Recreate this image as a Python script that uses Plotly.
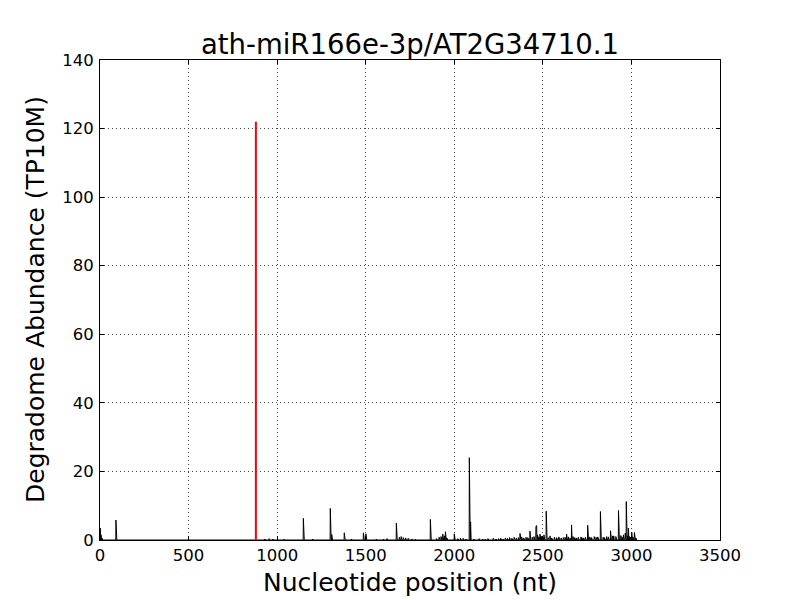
import numpy as np
import plotly.graph_objects as go

# ---- data ----
title_text = "ath-miR166e-3p/AT2G34710.1"
transcript_length = 3030

# prominent degradome peaks: position (nt) and abundance (TP10M)
peak_pos = [1, 3, 5, 8, 12, 90, 1148, 1300, 1308, 1379, 1487, 1501, 1673, 1865,
            1935, 1950, 2000, 2085, 2092, 2371, 2427, 2461, 2465, 2470, 2484,
            2506, 2519, 2540, 2634, 2662, 2753, 2825, 2882, 2927, 2971, 2983,
            3002, 3017]
peak_val = [3.5, 2.6, 1.6, 1.0, 0.5, 5.8, 6.3, 9.2, 1.6, 2.1, 2.1, 1.8, 4.9, 6.0,
            1.7, 2.4, 1.8, 24.0, 5.3, 1.9, 2.6, 4.0, 4.2, 1.5, 1.7,
            1.5, 8.4, 1.2, 1.7, 4.4, 4.3, 8.3, 2.7, 8.6, 11.2, 3.5,
            2.2, 2.2]

# low-level background reads
low_pos = [930, 955, 975, 1005, 1040, 1085, 1200, 1250, 1420, 1450, 1560, 1600,
           1620, 1690, 1700, 1712, 1725, 1740, 1760, 1780, 1830, 1900, 1914,
           1925, 1945, 1958, 2020, 2035, 2050, 2065, 2110, 2125, 2140, 2160,
           2175, 2190, 2205, 2220, 2235, 2250, 2262, 2275, 2288, 2300, 2312,
           2325, 2338, 2350, 2362, 2380, 2392, 2405, 2415, 2440, 2450, 2478,
           2490, 2495, 2500, 2530, 2550, 2565, 2578, 2590, 2603, 2615, 2625,
           2645, 2655, 2670, 2680, 2690, 2700, 2715, 2720, 2730, 2740, 2765,
           2775, 2790, 2800, 2810, 2840, 2848, 2860, 2870, 2893, 2900, 2912,
           2915, 2940, 2947, 2955, 2965, 2978, 2990, 2995, 3008, 3025]
low_val = [0.3, 0.4, 0.3, 0.2, 0.3, 0.2, 0.3, 0.2, 0.3, 0.2, 0.3, 0.3,
           0.4, 0.8, 1.0, 0.7, 0.6, 0.5, 0.3, 0.3, 0.2, 0.4, 0.8,
           1.0, 1.2, 0.6, 0.4, 0.5, 0.5, 0.3, 0.3, 0.2, 0.4, 0.3,
           0.3, 0.4, 0.2, 0.5, 0.3, 0.4, 0.5, 0.3, 0.6, 0.5, 0.7,
           0.5, 0.8, 0.6, 0.7, 0.9, 0.6, 0.8, 0.7, 0.8, 1.0, 0.9,
           1.1, 1.0, 0.8, 0.7, 0.6, 0.8, 0.7, 0.9, 0.6, 0.7, 0.8,
           0.9, 0.6, 1.0, 0.7, 0.6, 0.8, 0.9, 0.7, 0.6, 0.8, 0.9,
           0.7, 1.0, 0.8, 0.9, 0.8, 0.7, 1.0, 0.9, 1.2, 1.2, 1.0,
           1.0, 1.3, 0.9, 1.5, 2.0, 1.2, 1.0, 0.8, 0.9, 0.6]

# cleavage site (red)
cleavage_pos = 880
cleavage_val = 122

x_ticks = [0, 500, 1000, 1500, 2000, 2500, 3000, 3500]
y_ticks = [0, 20, 40, 60, 80, 100, 120, 140]

# ---- build full per-nucleotide profile ----
pos = np.arange(0, transcript_length + 1)
abund = np.zeros(len(pos))
for p, v in zip(low_pos, low_val):
    abund[p] = v
for p, v in zip(peak_pos, peak_val):
    abund[p] = v

fig = go.Figure()
fig.add_trace(go.Scatter(x=pos, y=abund, mode="lines",
                         line=dict(color="black", width=1), hoverinfo="skip"))
fig.add_trace(go.Scatter(x=[cleavage_pos, cleavage_pos], y=[0, cleavage_val],
                         mode="lines", line=dict(color="red", width=2)))

font_family = "DejaVu Sans"
axis_common = dict(
    showline=True, linecolor="black", linewidth=1, mirror="ticks",
    ticks="inside", ticklen=4, tickwidth=1, tickcolor="black",
    showgrid=True, gridcolor="#444444", gridwidth=1, griddash="1px,3px",
    zeroline=False, tickfont=dict(family=font_family, size=16.5, color="black"),
)

# page body has an 8px margin; margins compensate so the plot area
# lands at x 100..720, y 60..540 in the 800x600 window
fig.update_layout(
    width=800, height=600,
    margin=dict(l=92, r=88, t=52, b=68, autoexpand=False),
    paper_bgcolor="white", plot_bgcolor="white",
    showlegend=False,
    font=dict(family=font_family, color="black"),
    title=dict(text=title_text, x=0.5, xref="paper", y=1 - 36 / 600,
               yanchor="middle", font=dict(size=27.5, family=font_family, color="black")),
    xaxis=dict(range=[0, 3500], tickvals=x_ticks, **axis_common),
    yaxis=dict(range=[0, 140], tickvals=y_ticks, ticklabelstandoff=2, **axis_common),
    annotations=[
        dict(text="Nucleotide position (nt)", xref="paper", yref="paper",
             x=0.5, y=(540 - 582) / 480, xanchor="center", yanchor="middle",
             showarrow=False, font=dict(size=25, family=font_family, color="black")),
        dict(text="Degradome Abundance (TP10M)", xref="paper", yref="paper",
             x=(35 - 100) / 620, y=0.5, xanchor="center", yanchor="middle",
             textangle=-90, showarrow=False,
             font=dict(size=25, family=font_family, color="black")),
    ],
)

fig.write_html("out.html")
